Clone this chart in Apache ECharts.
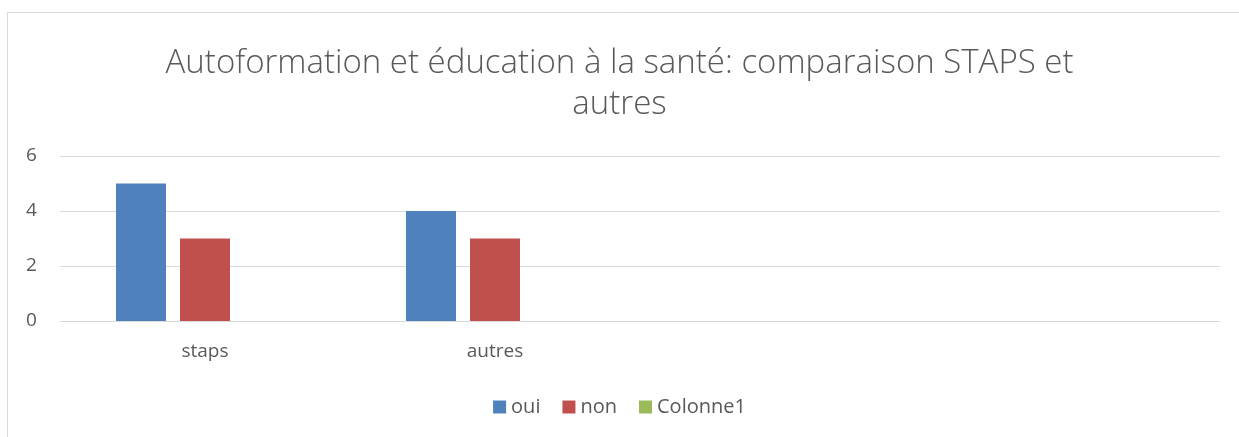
<!DOCTYPE html>
<html>
<head>
<meta charset="utf-8">
<script src="https://cdn.jsdelivr.net/npm/echarts@6/dist/echarts.min.js"></script>
<style>
  html, body { margin: 0; padding: 0; background: #fff; overflow: hidden; }
  #main { width: 1239px; height: 437px; }
</style>
</head>
<body>
<div id="main"></div>
<script>
// données
let categories = ['staps', 'autres', '', ''];
let oui = [5, 4, null, null];
let non = [3, 3, null, null];
let colonne1 = [null, null, null, null];
let yTicks = [0, 2, 4, 6];

let mainchart = echarts.init(document.getElementById('main'));
let txt = '#595959';
let font = 'Open Sans, Liberation Sans, sans-serif';

let chart_config = {
    animation: false,
    title: {
        text: 'Autoformation et éducation à la santé: comparaison STAPS et\nautres',
        left: 'center',
        top: 38,
        textStyle: {
            color: txt,
            fontFamily: font,
            fontWeight: 300,
            fontSize: 33,
            lineHeight: 41
        }
    },
    graphic: [{
        type: 'rect',
        shape: { x: 7.5, y: 12.5, width: 1300, height: 500 },
        style: { fill: 'none', stroke: '#d9d9d9', lineWidth: 1 },
        silent: true
    }],
    legend: {
        bottom: 15,
        left: 'center',
        itemWidth: 13,
        itemHeight: 13,
        itemGap: 22,
        icon: 'rect',
        textStyle: { color: txt, fontFamily: font, fontSize: 20 },
        data: ['oui', 'non', 'Colonne1']
    },
    grid: {
        left: 60,
        right: 19,
        top: 156,
        height: 165,
        containLabel: false
    },
    xAxis: {
        type: 'category',
        data: categories,
        axisLine: { lineStyle: { color: '#d9d9d9', width: 1 } },
        axisTick: { show: false },
        axisLabel: { color: txt, fontFamily: font, fontSize: 19, margin: 21 }
    },
    yAxis: {
        type: 'value',
        min: yTicks[0],
        max: yTicks[yTicks.length - 1],
        interval: 2,
        axisLine: { show: false },
        axisTick: { show: false },
        splitLine: { lineStyle: { color: '#d9d9d9', width: 1 } },
        axisLabel: { color: txt, fontFamily: font, fontSize: 19, margin: 34, align: 'left' }
    },
    series: [
        { name: 'oui', type: 'bar', data: oui, barWidth: 50, barGap: '28%', itemStyle: { color: '#4f81bd' } },
        { name: 'non', type: 'bar', data: non, barWidth: 50, barGap: '28%', itemStyle: { color: '#c0504d' } },
        { name: 'Colonne1', type: 'bar', data: colonne1, barWidth: 50, barGap: '28%', itemStyle: { color: '#9bbb59' } }
    ]
};
mainchart.setOption(chart_config);
</script>
</body>
</html>
